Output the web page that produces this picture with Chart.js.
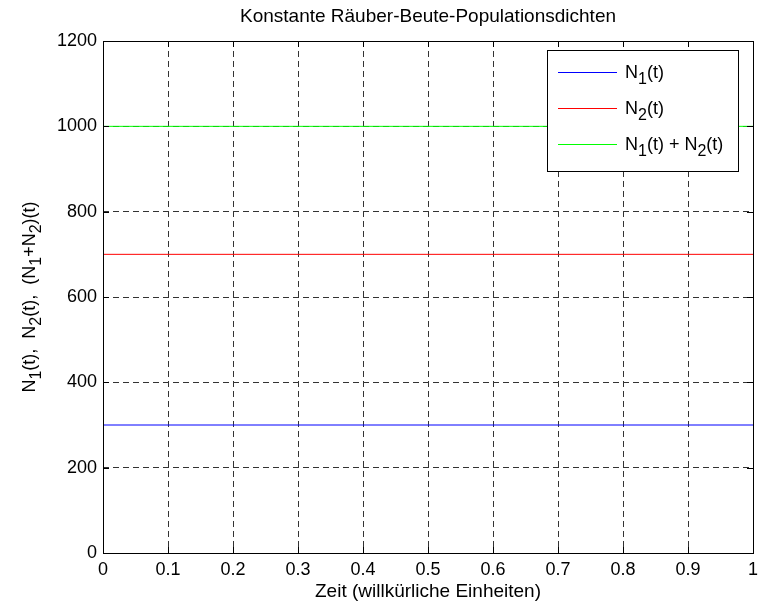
<!DOCTYPE html>
<html>
<head>
<meta charset="utf-8">
<script src="https://cdn.jsdelivr.net/npm/chart.js@4"></script>
<style>
html,body{margin:0;padding:0;background:#fff;}
#wrap{width:758px;height:607px;position:relative;}
</style>
</head>
<body>
<div id="wrap"><canvas id="c" width="758" height="607"></canvas></div>
<script>
const times = [0, 0.1, 0.2, 0.3, 0.4, 0.5, 0.6, 0.7, 0.8, 0.9, 1];
const n1 = [300, 300, 300, 300, 300, 300, 300, 300, 300, 300, 300];
const n2 = [700, 700, 700, 700, 700, 700, 700, 700, 700, 700, 700];
const nSum = [1000, 1000, 1000, 1000, 1000, 1000, 1000, 1000, 1000, 1000, 1000];
const xTicks = [0, 0.1, 0.2, 0.3, 0.4, 0.5, 0.6, 0.7, 0.8, 0.9, 1];
const xLabels = ["0", "0.1", "0.2", "0.3", "0.4", "0.5", "0.6", "0.7", "0.8", "0.9", "1"];
const yTicks = [0, 200, 400, 600, 800, 1000, 1200];
const yLabels = ["0", "200", "400", "600", "800", "1000", "1200"];
const titleText = "Konstante Räuber-Beute-Populationsdichten";
const xTitle = "Zeit (willkürliche Einheiten)";
// rich text: [text, isSubscript]
const yTitleParts = [["N",0],["1",1],["(t),  N",0],["2",1],["(t),  (N",0],["1",1],["+N",0],["2",1],[")(t)",0]];
const legendItems = [
  {parts: [["N",0],["1",1],["(t)",0]], color: "#0000ff"},
  {parts: [["N",0],["2",1],["(t)",0]], color: "#ff0000"},
  {parts: [["N",0],["1",1],["(t) + N",0],["2",1],["(t)",0]], color: "#00ff00"}
];

const FONT = "Liberation Sans, Arial, sans-serif";
const MAIN = 18, SUB = 16, SUBOFF = 6, TITLE = 19;

function richWidth(ctx, parts){
  let w = 0;
  for (const [t,s] of parts){ ctx.font = (s?SUB:MAIN)+"px "+FONT; w += ctx.measureText(t).width; }
  return w;
}
function drawRich(ctx, parts, x, baseline){
  let cx = x;
  ctx.textAlign = "left"; ctx.textBaseline = "alphabetic";
  for (const [t,s] of parts){
    ctx.font = (s?SUB:MAIN)+"px "+FONT;
    ctx.fillText(t, cx, baseline + (s?SUBOFF:0));
    cx += ctx.measureText(t).width;
  }
}

const decor = {
  id: "decor",
  afterDatasetsDraw(chart){
    const ctx = chart.ctx;
    const a = chart.chartArea;
    const xs = chart.scales.x, ys = chart.scales.y;
    ctx.save();
    // box
    ctx.strokeStyle = "#000"; ctx.lineWidth = 1;
    ctx.strokeRect(Math.round(a.left)+0.5, Math.round(a.top)+0.5, Math.round(a.right-a.left), Math.round(a.bottom-a.top));
    // inward ticks
    const tl = 6;
    ctx.beginPath();
    for (const v of xTicks){
      const px = Math.round(xs.getPixelForValue(v))+0.5;
      ctx.moveTo(px, a.bottom); ctx.lineTo(px, a.bottom - tl);
      ctx.moveTo(px, a.top); ctx.lineTo(px, a.top + tl);
    }
    for (const v of yTicks){
      const py = Math.round(ys.getPixelForValue(v))+0.5;
      ctx.moveTo(a.left, py); ctx.lineTo(a.left + tl, py);
      ctx.moveTo(a.right, py); ctx.lineTo(a.right - tl, py);
    }
    ctx.stroke();
    // title
    ctx.fillStyle = "#000";
    ctx.font = TITLE+"px "+FONT; ctx.textAlign = "center"; ctx.textBaseline = "middle";
    ctx.fillText(titleText, (a.left+a.right)/2, 17);
    // x title
    ctx.fillText(xTitle, (a.left+a.right)/2, 592);
    // y title rotated
    ctx.save();
    ctx.translate(35, (a.top+a.bottom)/2);
    ctx.rotate(-Math.PI/2);
    const w = richWidth(ctx, yTitleParts);
    drawRich(ctx, yTitleParts, -w/2, 0);
    ctx.restore();
    // legend
    const lx = 547.5, ly = 50.5, lw = 191, lh = 121;
    ctx.fillStyle = "#fff"; ctx.fillRect(lx, ly, lw, lh);
    ctx.strokeStyle = "#000"; ctx.lineWidth = 1; ctx.strokeRect(lx, ly, lw, lh);
    const rowsY = [72.5, 108.5, 144.5];
    legendItems.forEach((it, i) => {
      ctx.strokeStyle = it.color; ctx.lineWidth = 1;
      ctx.beginPath(); ctx.moveTo(558, rowsY[i]); ctx.lineTo(617, rowsY[i]); ctx.stroke();
      ctx.fillStyle = "#000";
      drawRich(ctx, it.parts, 625, rowsY[i] + 5);
    });
    ctx.restore();
  }
};

new Chart(document.getElementById("c"), {
  type: "line",
  data: {
    labels: times,
    datasets: [
      {label: "N1(t)", data: times.map((t,i)=>({x:t, y:n1[i]})), borderColor: "#0000ff", borderWidth: 1, pointRadius: 0, fill: false},
      {label: "N2(t)", data: times.map((t,i)=>({x:t, y:n2[i]})), borderColor: "#ff0000", borderWidth: 1, pointRadius: 0, fill: false},
      {label: "N1(t) + N2(t)", data: times.map((t,i)=>({x:t, y:nSum[i]})), borderColor: "#00ff00", borderWidth: 1, pointRadius: 0, fill: false}
    ]
  },
  options: {
    responsive: false,
    animation: false,
    devicePixelRatio: 1,
    layout: {padding: {top: 41, right: 5, left: 0, bottom: 0}},
    plugins: {legend: {display: false}, title: {display: false}, tooltip: {enabled: false}},
    scales: {
      x: {
        type: "linear", min: 0, max: 1,
        afterBuildTicks: s => { s.ticks = xTicks.map(v => ({value: v})); },
        afterFit: s => { s.height = 54; s.paddingLeft = 0; s.paddingRight = 0; },
        ticks: {callback: (v, i) => xLabels[i], color: "#000", font: {family: FONT, size: MAIN}, padding: 6, maxRotation: 0, autoSkip: false},
        grid: {color: "#333", lineWidth: 1, drawTicks: false},
        border: {display: false, dash: [6, 4]}
      },
      y: {
        type: "linear", min: 0, max: 1200,
        afterBuildTicks: s => { s.ticks = yTicks.map(v => ({value: v})); },
        afterFit: s => { s.width = 103; s.paddingTop = 0; s.paddingBottom = 0; },
        ticks: {callback: (v, i) => yLabels[i], color: "#000", font: {family: FONT, size: MAIN}, padding: 6, autoSkip: false},
        grid: {color: "#333", lineWidth: 1, drawTicks: false},
        border: {display: false, dash: [6, 4]}
      }
    }
  },
  plugins: [decor]
});
</script>
</body>
</html>
